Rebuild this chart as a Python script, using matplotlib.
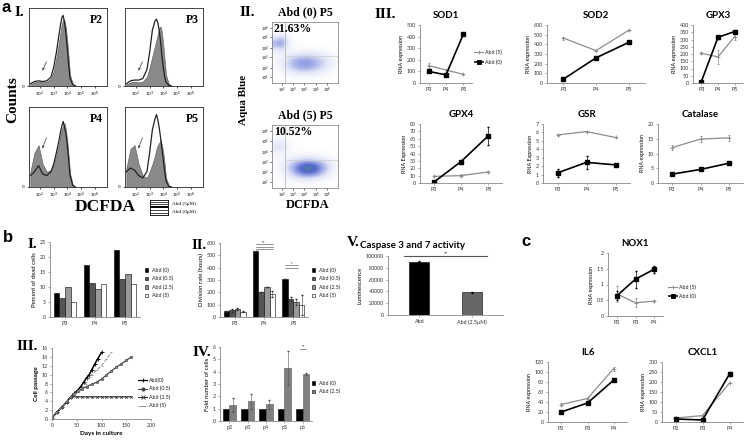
import numpy as np
import matplotlib
matplotlib.use('Agg')
import matplotlib.pyplot as plt
from matplotlib.colors import LinearSegmentedColormap

W, H = 746, 441
SANS = 'Lato'
SERIF = 'Liberation Serif'

# ---------------- data ----------------
# a I: histograms (x in log10 units of DCFDA)
hist_x = [1.3, 1.6, 1.9, 2.2, 2.5, 2.8, 3.0, 3.2, 3.4, 3.5, 3.6, 3.7, 3.8, 3.9, 4.0, 4.1, 4.2, 4.4, 4.6]
hist_names = ['P2', 'P3', 'P4', 'P5']
hist_fill = [
    [0.02, 0.05, 0.06, 0.05, 0.06, 0.10, 0.20, 0.38, 0.60, 0.72, 0.84, 0.90, 0.88, 0.78, 0.60, 0.38, 0.15, 0.03, 0.0],
    [0.02, 0.05, 0.06, 0.05, 0.06, 0.12, 0.25, 0.40, 0.55, 0.62, 0.70, 0.78, 0.80, 0.72, 0.55, 0.35, 0.15, 0.03, 0.0],
    [0.20, 0.45, 0.55, 0.30, 0.20, 0.22, 0.30, 0.42, 0.58, 0.68, 0.76, 0.80, 0.84, 0.75, 0.60, 0.40, 0.18, 0.03, 0.0],
    [0.25, 0.50, 0.55, 0.30, 0.15, 0.12, 0.20, 0.30, 0.42, 0.50, 0.55, 0.58, 0.62, 0.55, 0.45, 0.30, 0.12, 0.02, 0.0],
]
hist_line = [
    [0.03, 0.06, 0.07, 0.06, 0.07, 0.12, 0.25, 0.45, 0.70, 0.82, 0.92, 0.95, 0.85, 0.70, 0.50, 0.28, 0.10, 0.02, 0.0],
    [0.03, 0.07, 0.08, 0.08, 0.10, 0.22, 0.45, 0.75, 0.88, 0.90, 0.85, 0.75, 0.60, 0.40, 0.25, 0.12, 0.05, 0.01, 0.0],
    [0.15, 0.20, 0.28, 0.17, 0.15, 0.20, 0.30, 0.45, 0.62, 0.72, 0.80, 0.86, 0.78, 0.70, 0.55, 0.35, 0.15, 0.02, 0.0],
    [0.20, 0.25, 0.22, 0.15, 0.12, 0.20, 0.45, 0.75, 0.90, 0.95, 0.88, 0.78, 0.65, 0.50, 0.35, 0.20, 0.08, 0.01, 0.0],
]

# a II: density grids (rows top -> bottom, cols left -> right)
dens_top = [
    [0, 0, 0, 0, 0, 0, 0, 0, 0, 0],
    [0, 0, 0, 0, 0, 0, 0, 0, 0, 0],
    [1.0, 2.0, 0.5, 0, 0, 0, 0, 0, 0, 0],
    [3.0, 4.0, 1.0, 0.1, 0, 0, 0, 0, 0, 0],
    [1.0, 1.5, 0.5, 0.2, 0.2, 0.2, 0.2, 0.1, 0.1, 0],
    [0.3, 0.6, 1.0, 1.5, 1.8, 1.8, 1.5, 1.2, 0.8, 0.3],
    [0.3, 1.0, 2.0, 3.0, 3.5, 3.5, 3.0, 2.2, 1.5, 0.5],
    [0.2, 0.8, 1.8, 2.5, 3.0, 3.0, 2.5, 1.8, 1.0, 0.3],
    [0.1, 0.2, 0.5, 0.8, 1.0, 1.0, 0.8, 0.5, 0.3, 0.1],
    [0, 0, 0, 0, 0, 0, 0, 0, 0, 0],
]
dens_bot = [
    [0, 0, 0, 0, 0, 0, 0, 0, 0, 0],
    [0, 0, 0, 0, 0, 0, 0, 0, 0, 0],
    [0.5, 1.0, 0.3, 0, 0, 0, 0, 0, 0, 0],
    [1.5, 2.0, 0.5, 0.1, 0, 0, 0, 0, 0, 0],
    [0.5, 0.5, 0.3, 0.2, 0.2, 0.2, 0.2, 0.1, 0.1, 0],
    [0.2, 0.4, 0.8, 1.2, 1.5, 1.8, 1.6, 1.2, 0.8, 0.3],
    [0.3, 0.8, 2.0, 3.5, 5.0, 6.0, 5.0, 3.5, 2.0, 0.5],
    [0.2, 0.6, 1.5, 3.0, 4.5, 5.0, 4.5, 3.0, 1.5, 0.4],
    [0.1, 0.2, 0.5, 1.0, 1.2, 1.2, 1.0, 0.6, 0.3, 0.1],
    [0, 0, 0, 0, 0, 0, 0, 0, 0, 0],
]

# a III: RNA expression
cats_a = ['P3', 'P4', 'P5']
sod1_abd5, sod1_abd5_err = [150, 112, 75], [20, 0, 5]
sod1_abd0, sod1_abd0_err = [100, 70, 420], [0, 0, 0]
sod2_abd5, sod2_abd5_err = [465, 335, 545], [15, 8, 8]
sod2_abd0, sod2_abd0_err = [40, 260, 420], [0, 0, 0]
gpx3_abd5, gpx3_abd5_err = [205, 180, 320], [8, 50, 25]
gpx3_abd0, gpx3_abd0_err = [10, 315, 355], [0, 10, 10]
gpx4_abd5, gpx4_abd5_err = [9, 10, 15], [1, 2, 1]
gpx4_abd0, gpx4_abd0_err = [1, 29, 64], [0, 1, 12]
gsr_abd5, gsr_abd5_err = [5.7, 6.1, 5.4], [0.15, 0.1, 0.1]
gsr_abd0, gsr_abd0_err = [1.2, 2.45, 2.15], [0.5, 0.8, 0.1]
cat_abd5, cat_abd5_err = [12.0, 14.9, 15.3], [0.8, 1.0, 1.0]
cat_abd0, cat_abd0_err = [3.0, 4.6, 6.7], [0.2, 0.2, 0.3]

# b I / II: bars
cats_b = ['P3', 'P4', 'P5']
dose_labels = ['Abd (0)', 'Abd (0.5)', 'Abd (2.5)', 'Abd (5)']
dead_cells = [[8.1, 17.5, 22.5], [6.2, 11.5, 12.8], [10.0, 9.4, 14.2], [5.1, 11.0, 11.0]]
div_rate = [[45, 535, 305], [55, 205, 145], [65, 245, 125], [42, 185, 100]]
div_err = [[3, 0, 0], [12, 0, 15], [8, 0, 25], [3, 25, 80]]

# b III: growth curves
days_abd0 = [0, 10, 20, 30, 38, 45, 52, 58, 64, 70, 75, 80, 86, 92, 100]
pass_abd0 = [0.3, 1.5, 2.7, 3.9, 5, 5.8, 6.5, 7.3, 8.3, 9.3, 10, 11, 12.3, 13.5, 15]
days_abd05 = [0, 10, 20, 30, 38, 45, 52, 60, 70, 80, 90, 100, 110, 120, 130, 140, 150, 160]
pass_abd05 = [0.3, 1.5, 2.7, 3.9, 5, 5.6, 6.2, 6.8, 7.3, 7.8, 8.3, 9, 9.9, 10.8, 11.7, 12.4, 13.2, 14]
days_abd25 = [0, 10, 20, 30, 38, 50, 60, 70, 80, 90, 100, 110, 120, 130, 140, 150, 160]
pass_abd25 = [0.3, 1.5, 2.7, 3.9, 5, 5, 5, 5, 5, 5, 5, 5, 5, 5, 5, 5, 5]
days_abd5 = [0, 10, 20, 30, 38, 45, 52, 60, 68, 75, 80, 90, 100, 110, 120]
pass_abd5 = [0.3, 1.5, 2.7, 3.9, 5, 5.7, 6.3, 7, 8, 9.5, 10, 11, 12, 13.5, 15]

# b IV: fold number
cats_fold = ['p2', 'p3', 'p4', 'p5', 'p6']
fold_abd0 = [1, 1, 1, 1, 1]
fold_abd25 = [1.3, 1.6, 1.35, 4.3, 3.85]
fold_abd25_err = [0.55, 0.6, 0.35, 1.4, 0.08]

# b V: caspase
casp_labels = ['Abd', 'Abd (2.5\u03bcM)']
casp_vals = [90000, 38500]
casp_err = [800, 800]

# c
cats_c = ['P2', 'P3', 'P4']
nox1_abd5, nox1_abd5_err = [0.7, 0.42, 0.47], [0.25, 0.15, 0.03]
nox1_abd0, nox1_abd0_err = [0.65, 1.17, 1.48], [0.15, 0.27, 0.1]
il6_abd5, il6_abd5_err = [35, 47, 107], [3, 3, 4]
il6_abd0, il6_abd0_err = [20, 38, 84], [0, 0, 0]
cxcl1_abd5, cxcl1_abd5_err = [20, 32, 195], [0, 0, 0]
cxcl1_abd0, cxcl1_abd0_err = [15, 10, 240], [0, 0, 12]

# ---------------- helpers ----------------
fig = plt.figure(figsize=(W / 100, H / 100), dpi=100)
fig.patch.set_facecolor('white')


def box(x0, y0, x1, y1):
    return fig.add_axes([x0 / W, 1 - y1 / H, (x1 - x0) / W, (y1 - y0) / H])


def ftxt(x, y, s, **kw):
    return fig.text(x / W, 1 - y / H, s, **kw)


def excel_style(ax, fs=3.9):
    for s in ['top', 'right']:
        ax.spines[s].set_visible(False)
    for s in ['left', 'bottom']:
        ax.spines[s].set_color('#888888')
        ax.spines[s].set_linewidth(0.6)
    ax.tick_params(length=1.5, width=0.5, color='#888888', labelsize=fs,
                   labelcolor='#333333', pad=1.5)
    for lab in ax.get_xticklabels() + ax.get_yticklabels():
        lab.set_fontfamily(SANS)


def line_chart(ax, cats, g, g_err, k, k_err, ymax, ystep, ylabel, title, tfs=7, yfmt=None):
    x = np.arange(len(cats))
    ax.errorbar(x, g, yerr=g_err, color='#8c8c8c', lw=0.9, marker='+', ms=3,
                mew=0.6, elinewidth=0.5, capsize=1, label='Abd (5)')
    ax.errorbar(x, k, yerr=k_err, color='black', lw=1.2, marker='s', ms=2.6,
                elinewidth=0.5, capsize=1, label='Abd (0)')
    ax.set_xlim(-0.5, len(cats) - 0.5)
    ax.set_ylim(0, ymax)
    ax.set_xticks(x)
    ax.set_xticklabels(cats)
    ticks = np.arange(0, ymax + ystep / 2, ystep)
    ax.set_yticks(ticks)
    if yfmt:
        ax.set_yticklabels([yfmt(t) for t in ticks])
    ax.set_ylabel(ylabel, fontsize=3.9, family=SANS, labelpad=2)
    ax.set_title(title, fontsize=tfs, family=SANS, fontweight='bold', pad=5)
    excel_style(ax)


def small_legend(x, y, labels, styles, fs=3.8, dy=8.5):
    for i, (lab, st) in enumerate(zip(labels, styles)):
        yy = y + i * dy
        lx = box(x, yy - 3, x + 10, yy + 3)
        lx.set_axis_off()
        lx.set_xlim(0, 1)
        lx.set_ylim(0, 1)
        if st[0] == 'square':
            lx.add_patch(plt.Rectangle((0.35, 0.2), 0.35, 0.6, facecolor=st[1],
                                       edgecolor='black', lw=0.4))
        else:
            lx.plot([0, 1], [0.5, 0.5], color=st[1], lw=st[2], ls=st[4])
            lx.plot([0.5], [0.5], color=st[1], marker=st[3], ms=2.4, mew=0.6)
        ftxt(x + 11, yy, lab, fontsize=fs, family=SANS, va='center', ha='left', color='#222222')


# ---------------- panel a I ----------------
ftxt(2, 7, 'a', fontsize=12, fontweight='bold', family='Liberation Sans', va='center')
ftxt(15, 12, 'I.', fontsize=11, fontweight='bold', family=SERIF, va='center')
hist_boxes = [(29, 8, 107, 86), (125, 8, 203, 86), (29, 107, 107, 187), (125, 107, 203, 187)]
for i, (bx, name) in enumerate(zip(hist_boxes, hist_names)):
    ax = box(*bx)
    ax.fill_between(hist_x, hist_line[i], color='white', lw=0)
    ax.fill_between(hist_x, hist_fill[i], color='#8a8a8a', lw=0.4, edgecolor='#555555')
    ax.plot(hist_x, hist_line[i], color='#222222', lw=0.9)
    ax.set_xlim(1.2, 6.9)
    ax.set_ylim(0, 1.05)
    ax.set_xticks([2, 3, 4, 5, 6])
    ax.set_xticklabels(['10$^2$', '10$^3$', '10$^4$', '10$^5$', '10$^6$'])
    ax.set_yticks([0])
    ax.tick_params(labelsize=3.2, length=1.5, width=0.5, pad=1.5)
    for s in ax.spines.values():
        s.set_linewidth(0.7)
        s.set_color('#444444')
    ax.text(0.95, 0.92, name, transform=ax.transAxes, ha='right', va='top',
            fontsize=8.5, fontweight='bold', family=SERIF)
    ax.annotate('', xy=(2.1, 0.12 + (0.35 if i >= 2 else 0.05)),
                xytext=(2.55, 0.28 + (0.4 if i >= 2 else 0.08)),
                arrowprops=dict(arrowstyle='-|>', color='#555555', lw=0.6, mutation_scale=3))
ftxt(13, 100, 'Counts', fontsize=11, fontweight='bold', family=SERIF, rotation=90,
     ha='center', va='center')
ftxt(105, 207, 'DCFDA', fontsize=12.5, fontweight='bold', family=SERIF, ha='center', va='center')
lg = box(150, 200, 168, 215)
lg.set_xlim(0, 1)
lg.set_ylim(0, 1)
lg.set_xticks([])
lg.set_yticks([])
for s in lg.spines.values():
    s.set_linewidth(0.6)
for yy, lw in zip([0.12, 0.3, 0.5, 0.7, 0.88], [0.5, 0.5, 1.4, 0.5, 0.5]):
    lg.plot([0, 1], [yy, yy], color='black', lw=lw)
ftxt(172, 204, 'Abd (5\u03bcM)', fontsize=3.8, family=SERIF, va='center')
ftxt(172, 212, 'Abd (0\u03bcM)', fontsize=3.8, family=SERIF, va='center')

# ---------------- panel a II ----------------
cmap = LinearSegmentedColormap.from_list('flow', ['#ffffff', '#dfe3f7', '#9aa6e6', '#5566cc',
                                                  '#3f9c74', '#c8d84a'])
ftxt(240, 13, 'II.', fontsize=11, fontweight='bold', family=SERIF, va='center')
for (y0, y1, title, pct, dens) in [(22, 83, 'Abd (0) P5', '21.63%', dens_top),
                                   (125, 188, 'Abd (5) P5', '10.52%', dens_bot)]:
    ax = box(272, y0, 338, y1)
    ax.imshow(np.array(dens), cmap=cmap, vmin=0, vmax=7.5, interpolation='bicubic',
              extent=(0, 1, 0, 1), aspect='auto')
    ax.axvline(0.2, color='#bbbbbb', lw=0.6)
    ax.plot([0.2, 1], [0.45, 0.45], color='#cccccc', lw=0.5)
    ax.set_xlim(0, 1)
    ax.set_ylim(0, 1)
    ax.set_xticks([0.15, 0.32, 0.49, 0.66, 0.83])
    ax.set_xticklabels(['10$^2$', '10$^3$', '10$^4$', '10$^5$', '10$^6$'])
    ax.set_yticks([0.1, 0.25, 0.42, 0.58, 0.75, 0.9])
    ax.set_yticklabels(['10$^1$', '10$^2$', '10$^3$', '10$^4$', '10$^5$', '10$^6$'])
    ax.tick_params(labelsize=2.6, length=1.3, width=0.4, pad=1)
    for s in ax.spines.values():
        s.set_linewidth(0.5)
        s.set_color('#777777')
    ax.text(0.03, 0.99, pct, transform=ax.transAxes, fontsize=8.5, fontweight='bold',
            family=SERIF, va='top', ha='left')
    ftxt(305, y0 - 10, title, fontsize=8.5, fontweight='bold', family=SERIF,
         ha='center', va='center')
ftxt(308, 205, 'DCFDA', fontsize=9, fontweight='bold', family=SERIF, ha='center', va='center')
ftxt(243, 100, 'Aqua Blue', fontsize=8, fontweight='bold', family=SERIF, rotation=90,
     ha='center', va='center')

# ---------------- panel a III ----------------
ftxt(375, 14, 'III.', fontsize=11, fontweight='bold', family=SERIF, va='center')
ax = box(420, 25, 472, 83)
line_chart(ax, cats_a, sod1_abd5, sod1_abd5_err, sod1_abd0, sod1_abd0_err, 500, 100,
           'RNA expression', 'SOD1')
small_legend(474, 52, ['Abd (5)', 'Abd (0)'],
             [('line', '#8c8c8c', 0.8, '+', '-'), ('line', 'black', 1.1, 's', '-')], dy=10)
ax = box(547, 25, 645, 83)
line_chart(ax, cats_a, sod2_abd5, sod2_abd5_err, sod2_abd0, sod2_abd0_err, 600, 100,
           'RNA expression', 'SOD2')
ax = box(693, 25, 743, 83)
line_chart(ax, cats_a, gpx3_abd5, gpx3_abd5_err, gpx3_abd0, gpx3_abd0_err, 400, 50,
           'RNA expression', 'GPX3')
ax = box(420, 124, 502, 183)
line_chart(ax, cats_a, gpx4_abd5, gpx4_abd5_err, gpx4_abd0, gpx4_abd0_err, 80, 10,
           'RNA Expression', 'GPX4')
ax = box(543, 124, 630, 183)
line_chart(ax, cats_a, gsr_abd5, gsr_abd5_err, gsr_abd0, gsr_abd0_err, 7, 1,
           'RNA Expression', 'GSR')
ax = box(658, 124, 743, 183)
line_chart(ax, cats_a, cat_abd5, cat_abd5_err, cat_abd0, cat_abd0_err, 20, 5,
           'RNA expression', 'Catalase')

# ---------------- panel b ----------------
bar_colors = ['black', '#555555', '#999999', 'white']
ftxt(3, 238, 'b', fontsize=12, fontweight='bold', family='Liberation Sans', va='center')
ftxt(28, 245, 'I.', fontsize=11, fontweight='bold', family=SERIF, va='center')
ax = box(50, 242, 140, 317)
xg = np.arange(len(cats_b))
bw = 0.19
for j in range(4):
    ax.bar(xg + (j - 1.5) * bw, dead_cells[j], bw, color=bar_colors[j], edgecolor='black', lw=0.4)
ax.set_xlim(-0.5, 2.5)
ax.set_ylim(0, 25)
ax.set_yticks(range(0, 26, 5))
ax.set_xticks(xg)
ax.set_xticklabels(cats_b)
ax.set_ylabel('Percent of dead cells', fontsize=4.3, family=SANS, labelpad=2)
excel_style(ax)
small_legend(141, 270, dose_labels, [('square', c) for c in bar_colors])

ftxt(191, 246, 'II.', fontsize=10.5, fontweight='bold', family=SERIF, va='center')
ax = box(220, 243, 308, 317)
for j in range(4):
    ax.bar(xg + (j - 1.5) * bw, div_rate[j], bw, yerr=div_err[j], color=bar_colors[j],
           edgecolor='black', lw=0.4, error_kw=dict(elinewidth=0.4, capsize=0.8, ecolor='#333333'))
for yy in [590, 570, 552]:
    ax.plot([0.72, 1.3], [yy, yy], color='#444444', lw=0.4)
ax.text(1.0, 592, '**', fontsize=2.5, ha='center', va='bottom')
for yy in [420, 400]:
    ax.plot([1.72, 2.15], [yy, yy], color='#444444', lw=0.4)
ax.text(1.95, 422, '*', fontsize=2.5, ha='center', va='bottom')
ax.set_xlim(-0.5, 2.5)
ax.set_ylim(0, 600)
ax.set_yticks(range(0, 601, 100))
ax.set_xticks(xg)
ax.set_xticklabels(cats_b)
ax.set_ylabel('Division rate (hours)', fontsize=4.3, family=SANS, labelpad=2)
excel_style(ax)
small_legend(308, 270, dose_labels, [('square', c) for c in bar_colors])

# V caspase
ftxt(347, 243, 'V.', fontsize=11, fontweight='bold', family=SERIF, va='center')
ax = box(388, 256, 503, 315)
xc = np.arange(len(casp_labels))
ax.bar(xc, casp_vals, 0.38, yerr=casp_err, color=['black', '#666666'], edgecolor='black', lw=0.4,
       error_kw=dict(elinewidth=0.4, capsize=1))
ax.plot([-0.3, 1.3], [100000, 100000], color='#555555', lw=0.8, clip_on=False)
ax.text(0.5, 101000, '**', fontsize=3, ha='center', va='bottom')
ax.set_xlim(-0.6, 1.6)
ax.set_ylim(0, 100000)
ax.set_yticks(range(0, 100001, 20000))
ax.set_xticks(xc)
ax.set_xticklabels(casp_labels)
ax.set_ylabel('Luminescence', fontsize=4.3, family=SANS, labelpad=2)
excel_style(ax)
ftxt(412, 245, 'Caspase 3 and 7 activity', fontsize=7, fontweight='bold', family=SANS,
     ha='center', va='center')

# III growth
ftxt(17, 347, 'III.', fontsize=11, fontweight='bold', family=SERIF, va='center')
ax = box(52, 348, 151, 419)
ax.plot(days_abd0, pass_abd0, color='black', lw=1.1, marker='+', ms=2.5, mew=0.6)
ax.plot(days_abd05, pass_abd05, color='#444444', lw=0.9, marker='o', ms=1.8, mfc='#888888', mew=0.4)
ax.plot(days_abd25, pass_abd25, color='#333333', lw=0.9, marker='x', ms=1.8, mew=0.5)
ax.plot(days_abd5, pass_abd5, color='#888888', lw=0.7, ls='--', marker='_', ms=2, mew=0.5)
ax.set_xlim(0, 200)
ax.set_ylim(0, 16)
ax.set_xticks(range(0, 201, 50))
ax.set_yticks(range(0, 17, 2))
ax.set_xlabel('Days in culture', fontsize=4.6, family=SANS, labelpad=2, fontweight='bold')
ax.set_ylabel('Cell passage', fontsize=4.6, family=SANS, labelpad=2, fontweight='bold')
excel_style(ax)
small_legend(138, 380, ['Abd(0)', 'Abd (0.5)', 'Abd (2.5)', 'Abd (5)'],
             [('line', 'black', 0.9, '+', '-'), ('line', '#444444', 0.8, 'o', '-'),
              ('line', '#333333', 0.8, 'x', '-'), ('line', '#888888', 0.6, '_', '--')])

# IV fold
ftxt(193, 352, 'IV.', fontsize=11, fontweight='bold', family=SERIF, va='center')
ax = box(220, 347, 312, 421)
xf = np.arange(len(cats_fold))
ax.bar(xf - 0.18, fold_abd0, 0.36, color='black', edgecolor='black', lw=0.4)
ax.bar(xf + 0.18, fold_abd25, 0.36, yerr=fold_abd25_err, color='#808080', edgecolor='#555555', lw=0.4,
       error_kw=dict(elinewidth=0.4, capsize=0.8, ecolor='#555555'))
ax.plot([3.85, 4.2], [5.85, 5.85], color='#444444', lw=0.4)
ax.text(4.02, 5.87, '**', fontsize=2.5, ha='center', va='bottom')
ax.set_xlim(-0.5, 4.5)
ax.set_ylim(0, 6)
ax.set_yticks(range(0, 7))
ax.set_xticks(xf)
ax.set_xticklabels(cats_fold)
ax.set_ylabel('Fold number of cells', fontsize=4.3, family=SANS, labelpad=2)
excel_style(ax)
small_legend(308, 383, ['Abd (0)', 'Abd (2.5)'], [('square', 'black'), ('square', '#808080')])

# ---------------- panel c ----------------
ftxt(521, 241, 'c', fontsize=12, fontweight='bold', family='Liberation Sans', va='center')
ax = box(608, 253, 663, 316)
line_chart(ax, cats_c, nox1_abd5, nox1_abd5_err, nox1_abd0, nox1_abd0_err, 2, 0.5,
           'RNA expression', 'NOX1', yfmt=lambda t: ('%g' % t))
small_legend(668, 287, ['Abd (5)', 'Abd (0)'],
             [('line', '#8c8c8c', 0.8, '+', '-'), ('line', 'black', 1.1, 's', '-')], dy=9)
ax = box(548, 362, 627, 422)
line_chart(ax, cats_c, il6_abd5, il6_abd5_err, il6_abd0, il6_abd0_err, 120, 20,
           'RNA expression', 'IL6')
ax = box(662, 362, 743, 422)
line_chart(ax, cats_c, cxcl1_abd5, cxcl1_abd5_err, cxcl1_abd0, cxcl1_abd0_err, 300, 50,
           'RNA expression', 'CXCL1')

fig.savefig('out.png', dpi=100, facecolor='white')
